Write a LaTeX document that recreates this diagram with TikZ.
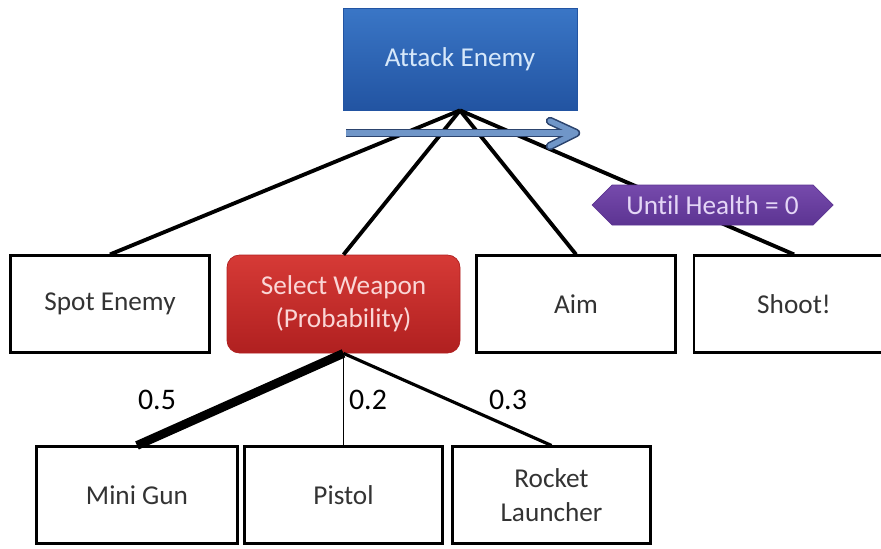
\documentclass[tikz,border=0pt]{standalone}
\usepackage{fontspec}
\setmainfont{Carlito}[RawFeature={-liga;-clig;-dlig;-calt}]
\usetikzlibrary{positioning, shapes, arrows}
\definecolor{atkblue}{RGB}{58,118,198}
\definecolor{atkdark}{RGB}{34,84,162}
\definecolor{atktext}{RGB}{214,232,250}
\definecolor{selred}{RGB}{214,58,54}
\definecolor{seldark}{RGB}{176,32,32}
\definecolor{seltext}{RGB}{250,214,214}
\definecolor{untpurple}{RGB}{118,74,172}
\definecolor{untdark}{RGB}{92,52,146}
\definecolor{unttext}{RGB}{228,214,246}
\definecolor{seqfill}{RGB}{112,150,200}
\definecolor{seqline}{RGB}{44,68,110}
\tikzstyle{task} = [rectangle, draw, line width=1.2pt, fill=white, text=black!80, align=center, font=\fontsize{15.5}{19}\selectfont, minimum width=3.98cm, minimum height=1.94cm]
\tikzstyle{root} = [rectangle, draw=atkdark, top color=atkblue, bottom color=atkdark, text=atktext, font=\fontsize{15.5}{19}\selectfont, minimum width=4.68cm, minimum height=2.04cm]
\tikzstyle{chooser} = [rectangle, rounded corners=0.25cm, draw=seldark, top color=selred, bottom color=seldark, text=seltext, align=center, font=\fontsize{15.5}{19}\selectfont, minimum width=4.66cm, minimum height=1.96cm]
\tikzstyle{loopsign} = [signal, signal to=west and east, draw=untdark, top color=untpurple, bottom color=untdark, text=unttext, font=\fontsize{15.5}{19}\selectfont, minimum width=4.82cm, minimum height=0.8cm, inner sep=1pt]
\tikzstyle{edge} = [line width=2.2pt]
\tikzstyle{prob} = [font=\fontsize{17}{20}\selectfont, text=black]

\begin{document}
\begin{tikzpicture}[node distance=4cm, auto]
    \useasboundingbox (0,0) rectangle (17.62,-10.96);

    % Wurzel
    \node [root] (attack) at (9.2,-1.18) {Attack Enemy};

    % Sequenz-Pfeil
    \coordinate (seqL) at (6.92,-2.66);
    \coordinate (seqR) at (11.52,-2.66);
    \coordinate (seqU) at (11.0,-2.42);
    \coordinate (seqD) at (11.0,-2.92);

    % zweite Ebene
    \node [task] (spot) at (2.2,-6.08) {Spot Enemy};
    \node [chooser, right of=spot, node distance=4.67cm] (select) {Select Weapon\\(Probability)};
    \node [task, right of=select, node distance=4.65cm] (aim) {Aim};
    \node [task, right of=aim, node distance=4.36cm, minimum width=4cm] (shoot) {Shoot!};

    % Waffen
    \node [task, below of=select, node distance=3.82cm, minimum width=3.96cm] (pistol) {Pistol};
    \node [task, left of=pistol, node distance=4.13cm, minimum width=4.02cm] (minigun) {Mini Gun};
    \node [task, right of=pistol, node distance=4.16cm, minimum width=3.96cm] (rocket) {Rocket\\Launcher};

    % Wahrscheinlichkeiten
    \node [prob] (p1) at (3.14,-8.0) {0.5};
    \node [prob] (p2) at (7.36,-8.0) {0.2};
    \node [prob] (p3) at (10.16,-8.0) {0.3};

    % Kanten
    \draw [edge] (attack.south) -- (spot.north);
    \draw [edge] (attack.south) -- (select.north);
    \draw [edge] (attack.south) -- (aim.north);
    \draw [edge] (attack.south) -- (shoot.north);
    \draw [line width=5pt] (select.south) -- (minigun.north);
    \draw [line width=0.6pt] (select.south) -- (pistol.north);
    \draw [line width=1.8pt] (select.south) -- (rocket.north);

    % Pfeil ueber den Kanten
    \draw [seqline, line width=4.8pt, line join=round] (seqL) -- (seqR);
    \draw [seqline, line width=4.8pt, line join=round, line cap=round] (seqU) -- (seqR) -- (seqD);
    \draw [seqfill, line width=3pt, line join=round] (seqL) -- (seqR);
    \draw [seqfill, line width=3pt, line join=round, line cap=round] (seqU) -- (seqR) -- (seqD);

    % Bedingung
    \node [loopsign] (until) at (14.25,-4.1) {Until Health = 0};
\end{tikzpicture}
\end{document}
